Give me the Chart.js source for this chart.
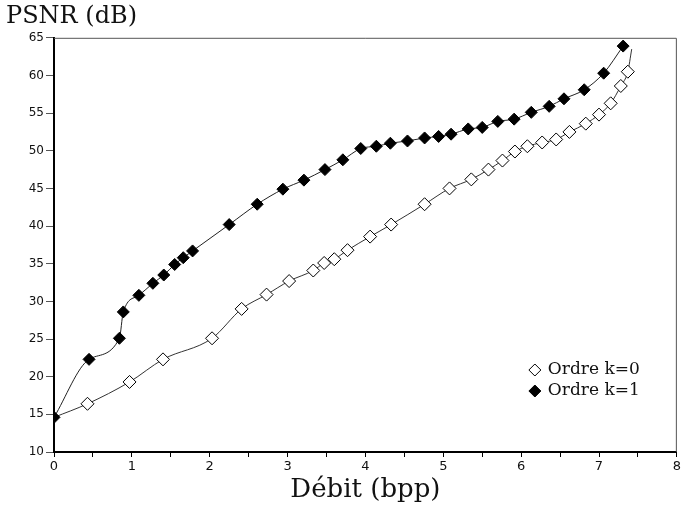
<!DOCTYPE html>
<html>
<head>
<meta charset="utf-8">
<title>PSNR / débit</title>
<script src="https://cdn.jsdelivr.net/npm/chart.js@4.4.1/dist/chart.umd.min.js"></script>
<style>
  html, body { margin: 0; padding: 0; background: #fff; }
  #wrap { width: 683px; height: 510px; position: relative; }
</style>
</head>
<body>
<div id="wrap"><canvas id="psnrChart"></canvas></div>
<script>
// Débit (bpp) and PSNR (dB) for both orders
let debitK0 = [0, 0.43, 0.97, 1.40, 2.03, 2.41, 2.73, 3.02, 3.33, 3.47, 3.60, 3.77, 4.06, 4.33, 4.76, 5.08,
               5.36, 5.58, 5.76, 5.92, 6.08, 6.27, 6.45, 6.62, 6.83, 7.00, 7.15, 7.28, 7.37, 7.42];
let psnrK0  = [14.6, 16.4, 19.3, 22.3, 25.1, 29.0, 30.9, 32.7, 34.1, 35.1, 35.6, 36.8, 38.6, 40.2, 42.9, 45.0,
               46.2, 47.5, 48.7, 49.9, 50.6, 51.1, 51.5, 52.5, 53.6, 54.8, 56.3, 58.6, 60.5, 63.5];

let debitK1 = [0, 0.45, 0.84, 0.89, 1.09, 1.27, 1.41, 1.55, 1.66, 1.78, 2.25, 2.61, 2.94, 3.21, 3.48, 3.71,
               3.94, 4.14, 4.32, 4.54, 4.76, 4.94, 5.10, 5.32, 5.50, 5.70, 5.91, 6.13, 6.36, 6.55, 6.81, 7.06, 7.31];
let psnrK1  = [14.6, 22.3, 25.1, 28.6, 30.8, 32.4, 33.5, 34.9, 35.8, 36.7, 40.2, 42.9, 44.9, 46.1, 47.5, 48.8,
               50.3, 50.6, 51.0, 51.3, 51.7, 51.9, 52.2, 52.9, 53.1, 53.9, 54.2, 55.1, 55.9, 56.9, 58.1, 60.3, 63.9];

let seriesLabels = ['Ordre k=0', 'Ordre k=1'];

function toPoints(xs, ys) {
    return xs.map((x, i) => ({ x: x, y: ys[i] }));
}

// Thin frame on top and right of the plot area
const framePlugin = {
    id: 'frame',
    beforeDatasetsDraw(chart) {
        let a = chart.chartArea, ctx = chart.ctx;
        ctx.save();
        ctx.strokeStyle = '#555';
        ctx.lineWidth = 1;
        ctx.beginPath();
        ctx.moveTo(a.left, a.top + 0.5);
        ctx.lineTo(a.right - 0.5, a.top + 0.5);
        ctx.lineTo(a.right - 0.5, a.bottom);
        ctx.stroke();
        ctx.restore();
    }
};

// Legend drawn inside the plot, lower right
const innerLegend = {
    id: 'innerLegend',
    afterDraw(chart) {
        let a = chart.chartArea, ctx = chart.ctx;
        let x = a.right - 142, y = a.bottom - 82;
        ctx.save();
        ctx.font = '17px "DejaVu Serif", serif';
        ctx.textBaseline = 'middle';
        [0, 1].forEach((i, row) => {
            let ds = chart.data.datasets[i];
            let yy = y + row * 21;
            ctx.fillStyle = ds.pointBackgroundColor;
            ctx.strokeStyle = '#000';
            ctx.lineWidth = 1;
            Chart.helpers.drawPoint(ctx, { pointStyle: 'rectRot', radius: 6, borderWidth: 1 }, x, yy);
            ctx.fillStyle = '#111';
            ctx.fillText(ds.label, x + 13, yy);
        });
        ctx.restore();
    }
};

let ctx = document.getElementById('psnrChart').getContext('2d');
new Chart(ctx, {
    type: 'line',
    data: {
        datasets: [{
            label: seriesLabels[0],
            data: toPoints(debitK0, psnrK0),
            borderColor: '#333',
            borderWidth: 1,
            pointStyle: 'rectRot',
            pointBackgroundColor: '#fff',
            pointBorderColor: '#000',
            pointBorderWidth: 1,
            // no marker at the shared origin nor at the curve's end
            pointRadius: c => (c.dataIndex === 0 || c.dataIndex === debitK0.length - 1) ? 0 : 6.5,
            cubicInterpolationMode: 'monotone',
            order: 2
        }, {
            label: seriesLabels[1],
            data: toPoints(debitK1, psnrK1),
            borderColor: '#222',
            borderWidth: 1,
            pointStyle: 'rectRot',
            pointBackgroundColor: '#000',
            pointBorderColor: '#000',
            pointBorderWidth: 1,
            pointRadius: 6,
            cubicInterpolationMode: 'monotone',
            order: 1
        }]
    },
    options: {
        responsive: true,
        maintainAspectRatio: false,
        animation: false,
        layout: { autoPadding: false, padding: { left: 6, right: 3, top: 0, bottom: 0 } },
        plugins: {
            legend: { display: false },
            tooltip: { enabled: false },
            title: {
                display: true,
                text: 'PSNR (dB)',
                align: 'start',
                color: '#111',
                font: { family: '"DejaVu Serif", serif', size: 24, weight: 'normal' },
                padding: { top: 2, bottom: 7 }
            }
        },
        scales: {
            x: {
                type: 'linear',
                min: 0,
                max: 8,
                border: { display: true, color: '#000', width: 2 },
                grid: { drawOnChartArea: false, drawTicks: true, tickLength: 5, color: '#000' },
                ticks: {
                    stepSize: 0.5,
                    autoSkip: false,
                    maxRotation: 0,
                    color: '#111',
                    padding: 2,
                    font: { family: '"DejaVu Sans", sans-serif', size: 13 },
                    callback: v => Number.isInteger(v) ? String(v) : ''
                },
                title: {
                    display: true,
                    text: 'Débit (bpp)',
                    color: '#111',
                    font: { family: '"DejaVu Serif", serif', size: 26, weight: 'normal' },
                    padding: { top: 2, bottom: 4 }
                },
                afterFit: s => { s.height = 58; }
            },
            y: {
                type: 'linear',
                min: 10,
                max: 65,
                border: { display: true, color: '#000', width: 2 },
                grid: { drawOnChartArea: false, drawTicks: true, tickLength: 8, color: '#555' },
                ticks: {
                    stepSize: 5,
                    color: '#111',
                    padding: 2,
                    font: { family: '"DejaVu Sans", sans-serif', size: 12 }
                },
                afterFit: s => { s.width = 48; }
            }
        }
    },
    plugins: [framePlugin, innerLegend]
});
</script>
</body>
</html>
